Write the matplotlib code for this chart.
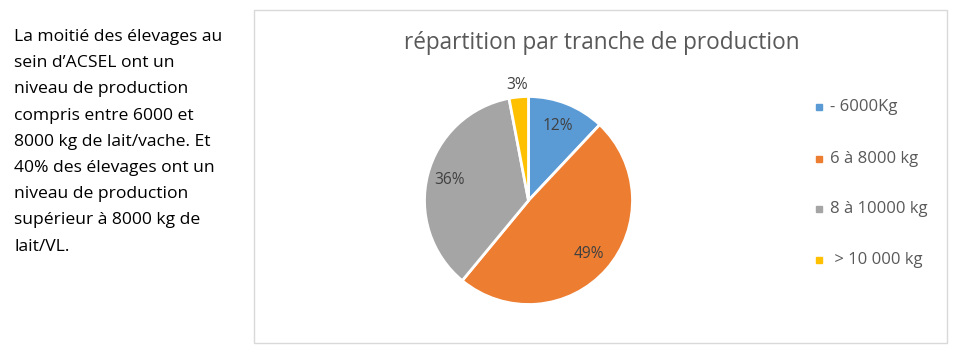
import numpy as np
import matplotlib.pyplot as plt
from matplotlib.patches import Rectangle

plt.rcParams['font.family'] = ['Open Sans', 'DejaVu Sans']

categories = ["- 6000Kg", "6 à 8000 kg", "8 à 10000 kg", " > 10 000 kg"]
values = [12, 49, 36, 3]
colors = ["#5B9BD5", "#ED7D31", "#A5A5A5", "#FFC000"]
note = ("La moitié des élevages au\nsein d\u2019ACSEL ont un\nniveau de production\n"
        "compris entre 6000 et\n8000 kg de lait/vache. Et\n40% des élevages ont un\n"
        "niveau de production\nsupérieur à 8000 kg de\nlait/VL.")

fig = plt.figure(figsize=(9.55, 3.55), dpi=100)
W, H = 955, 355

# texte à gauche
fig.text(14 / W, 1 - 29 / H, note, ha="left", va="top", fontsize=12.6,
         color="black", linespacing=1.85)

# cadre du graphique
fig.add_artist(Rectangle((254 / W, 1 - 343 / H), (947 - 254) / W, (343 - 10) / H,
                         transform=fig.transFigure, fill=False,
                         edgecolor="#D9D9D9", linewidth=1))

fig.text(601.5 / W, 1 - 43 / H, "répartition par tranche de production",
         ha="center", va="center", fontsize=16.3, color="#595959")

# camembert
r = 104
cx, cy = 528.5, 200.5
ax = fig.add_axes([(cx - r) / W, 1 - (cy + r) / H, 2 * r / W, 2 * r / H])
wedges, texts = ax.pie(values, colors=colors, startangle=90, counterclock=False,
                       wedgeprops=dict(edgecolor="white", linewidth=2))
dist = [0.77, 0.78, 0.78, 1.12]
for w, v, d in zip(wedges, values, dist):
    mid = np.deg2rad((w.theta1 + w.theta2) / 2)
    ax.text(d * np.cos(mid), d * np.sin(mid), f"{v}%", ha="center", va="center",
            fontsize=11.2, color="#404040")
ax.set_xlim(-1, 1)
ax.set_ylim(-1, 1)
ax.set_aspect("equal")

# légende
ys = [107, 159, 209, 260]
for lab, c, y in zip(categories, colors, ys):
    fig.add_artist(Rectangle((816 / W, 1 - (y + 3) / H), 6 / W, 6 / H,
                             transform=fig.transFigure, color=c))
    fig.text(830 / W, 1 - y / H, lab, ha="left", va="center", fontsize=12,
             color="#595959")

fig.savefig("out.png", dpi=100)
